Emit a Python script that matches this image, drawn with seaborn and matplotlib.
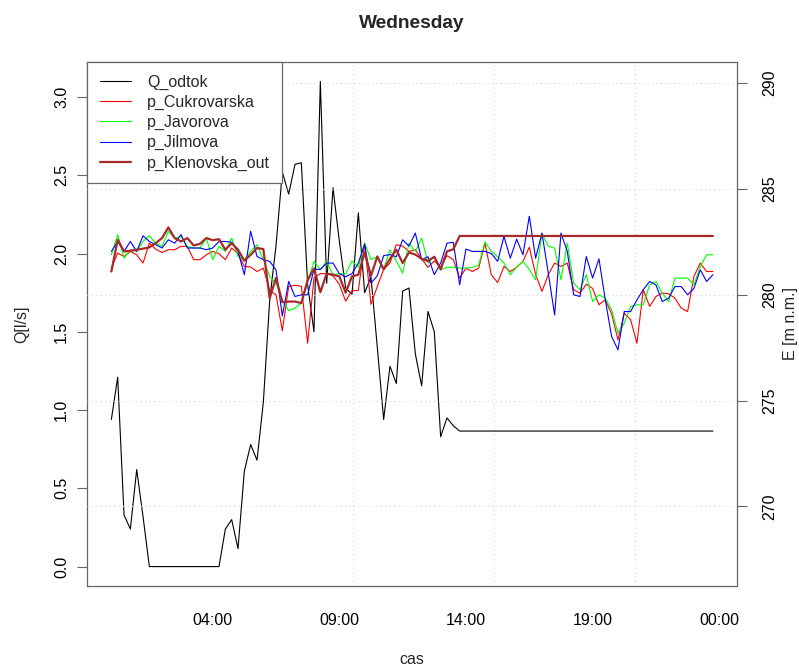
import numpy as np
import pandas as pd
import matplotlib
matplotlib.use("Agg")
import matplotlib.pyplot as plt
import seaborn as sns

# quarter-hour samples over one day, 00:00 .. 23:45
hours = np.arange(96) * 0.25

q_odtok = [
    0.94, 1.21, 0.33, 0.24, 0.62, 0.32, 0.0, 0.0, 0.0, 0.0, 0.0, 0.0,
    0.0, 0.0, 0.0, 0.0, 0.0, 0.0, 0.24, 0.30, 0.115, 0.61, 0.78, 0.68,
    1.05, 1.70, 2.05, 2.52, 2.38, 2.57, 2.58, 1.80, 1.50, 3.10, 1.81, 2.42,
    2.08, 1.78, 1.74, 2.26, 1.75, 1.85, 1.40, 0.94, 1.28, 1.17, 1.76, 1.78,
    1.36, 1.155, 1.63, 1.50, 0.83, 0.95, 0.90, 0.866, 0.866, 0.866, 0.866, 0.866,
    0.866, 0.866, 0.866, 0.866, 0.866, 0.866, 0.866, 0.866, 0.866, 0.866, 0.866, 0.866,
    0.866, 0.866, 0.866, 0.866, 0.866, 0.866, 0.866, 0.866, 0.866, 0.866, 0.866, 0.866,
    0.866, 0.866, 0.866, 0.866, 0.866, 0.866, 0.866, 0.866, 0.866, 0.866, 0.866, 0.866,
]

p_cukrovarska = [
    281.26, 281.97, 281.81, 282.05, 281.89, 281.50, 282.44, 282.16, 282.00, 282.13, 282.13, 282.29,
    282.29, 281.66, 281.66, 281.89, 282.05, 281.94, 281.66, 282.21, 281.94, 281.34, 281.31, 281.10,
    281.26, 280.20, 280.00, 278.30, 280.40, 280.45, 280.40, 277.71, 280.80, 281.00, 281.00, 280.90,
    280.50, 279.70, 280.20, 280.20, 282.40, 279.55, 280.40, 281.20, 281.50, 282.37, 282.30, 282.05,
    282.13, 281.70, 281.30, 281.60, 281.30, 281.85, 281.66, 280.79, 281.26, 281.10, 281.26, 282.44,
    280.95, 280.58, 281.34, 281.10, 281.30, 281.58, 282.25, 280.95, 280.16, 280.95, 281.50, 281.34,
    281.50, 280.24, 280.08, 280.50, 280.30, 279.53, 279.76, 279.10, 277.87, 279.13, 278.82, 277.71,
    280.24, 279.45, 279.92, 280.08, 280.05, 279.84, 279.37, 279.21, 280.87, 281.50, 281.10, 281.10,
]

p_javorova = [
    281.89, 282.84, 281.73, 282.13, 282.05, 282.52, 282.79, 282.44, 282.29, 283.00, 282.68, 282.76,
    282.29, 282.21, 282.21, 282.68, 281.66, 282.29, 282.05, 282.68, 281.81, 281.66, 282.05, 282.37,
    281.66, 280.87, 280.55, 279.76, 279.25, 279.37, 279.61, 280.60, 281.58, 281.18, 281.58, 280.95,
    281.00, 281.00, 281.60, 281.30, 282.44, 281.66, 281.80, 281.20, 282.13, 281.60, 281.02, 282.44,
    282.05, 282.68, 281.50, 281.80, 281.18, 281.30, 281.30, 281.26, 281.26, 281.30, 281.40, 282.50,
    282.05, 281.80, 281.50, 280.95, 281.30, 281.58, 281.20, 280.71, 282.89, 282.30, 282.20, 280.71,
    282.44, 280.55, 280.24, 280.95, 279.68, 280.00, 279.84, 279.29, 278.19, 278.66, 279.45, 279.53,
    279.53, 280.47, 280.63, 280.08, 279.68, 280.79, 280.79, 280.79, 280.47, 281.34, 281.89, 281.89,
]

p_jilmova = [
    282.05, 282.52, 282.05, 282.52, 282.05, 282.79, 282.52, 282.37, 282.21, 282.60, 282.44, 282.84,
    282.21, 282.21, 282.21, 282.13, 282.21, 282.52, 282.52, 282.48, 282.05, 280.95, 283.00, 281.81,
    281.66, 281.58, 281.18, 279.00, 280.63, 279.92, 280.00, 280.00, 281.20, 281.20, 281.50, 281.50,
    281.00, 280.85, 281.00, 281.50, 282.40, 280.55, 280.90, 281.85, 281.90, 281.80, 282.60, 282.30,
    282.92, 281.65, 281.80, 280.95, 281.50, 282.44, 282.48, 280.47, 282.16, 282.05, 282.05, 282.05,
    281.95, 281.58, 282.76, 281.73, 282.63, 281.89, 283.71, 281.73, 282.92, 281.02, 279.05, 282.92,
    282.05, 280.00, 279.92, 281.81, 280.79, 281.70, 279.76, 278.03, 277.40, 279.21, 279.21, 279.76,
    280.24, 280.63, 280.47, 279.68, 279.84, 280.39, 280.39, 280.00, 280.30, 281.18, 280.63, 280.95,
]

p_klenovska_out = [
    281.10, 282.60, 282.05, 282.08, 282.13, 282.18, 282.24, 282.44, 282.68, 283.18, 282.68, 282.52,
    282.68, 282.33, 282.41, 282.68, 282.58, 282.63, 282.13, 282.44, 282.13, 281.61, 281.89, 282.21,
    282.16, 279.84, 280.80, 279.65, 279.68, 279.68, 279.61, 280.70, 281.25, 280.12, 281.00, 280.95,
    280.87, 280.10, 280.87, 280.95, 282.00, 280.90, 281.81, 281.20, 281.70, 282.13, 281.50, 282.00,
    281.90, 281.70, 281.60, 281.80, 281.20, 282.05, 282.15, 282.78, 282.78, 282.78, 282.78, 282.78,
    282.78, 282.78, 282.78, 282.78, 282.78, 282.78, 282.78, 282.78, 282.78, 282.78, 282.78, 282.78,
    282.78, 282.78, 282.78, 282.78, 282.78, 282.78, 282.78, 282.78, 282.78, 282.78, 282.78, 282.78,
    282.78, 282.78, 282.78, 282.78, 282.78, 282.78, 282.78, 282.78, 282.78, 282.78, 282.78, 282.78,
]

x_tick_hours = [4, 9, 14, 19, 24]
x_tick_labels = ["04:00", "09:00", "14:00", "19:00", "00:00"]
q_ticks = [0.0, 0.5, 1.0, 1.5, 2.0, 2.5, 3.0]
e_ticks = [270, 275, 280, 285, 290]

df = pd.DataFrame({
    "hours": hours,
    "Q_odtok": q_odtok,
    "p_Cukrovarska": p_cukrovarska,
    "p_Javorova": p_javorova,
    "p_Jilmova": p_jilmova,
    "p_Klenovska_out": p_klenovska_out,
})

sns.set_style("white")
plt.rcParams["font.family"] = ["Liberation Sans", "DejaVu Sans"]

FS = 11.5
AXC = "#666666"

fig = plt.figure(figsize=(7.99, 6.66), dpi=100)
ax = fig.add_axes([87.3 / 799, 1 - 586 / 666, (737 - 87.3) / 799, (586 - 62) / 666])

sns.lineplot(data=df, x="hours", y="Q_odtok", ax=ax, color="black",
             linewidth=0.8, label="Q_odtok", legend=False)
ax.set_xlim(-0.95, 24.7)
ax.set_ylim(-0.124, 3.224)

ax2 = ax.twinx()
series = [
    ("p_Cukrovarska", "#FF0000", 0.8),
    ("p_Javorova", "#00FF00", 0.8),
    ("p_Jilmova", "#0000FF", 0.8),
    ("p_Klenovska_out", "#A52A2A", 1.6),
]
for name, col, lw in series:
    sns.lineplot(data=df, x="hours", y=name, ax=ax2, color=col,
                 linewidth=lw, label=name, legend=False)
ax2.set_ylim(266.24, 291.0)

# R-style grid: dotted light grey
grid_hours = [4 + k * 20000 / 3600 for k in range(4)]
ax.set_xticks(grid_hours, minor=True)
ax.tick_params(axis="x", which="minor", length=0)
ax.grid(which="minor", axis="x", color="#D3D3D3", linestyle=(0, (1, 3)), linewidth=0.8)
ax.grid(which="major", visible=False)
ax2.set_yticks(e_ticks, [str(v) for v in e_ticks])
ax2.grid(axis="y", color="#D3D3D3", linestyle=(0, (1, 3)), linewidth=0.8)
ax2.grid(axis="x", visible=False)

ax.set_xticks(x_tick_hours, x_tick_labels)
ax.set_yticks(q_ticks, [f"{v:.1f}" for v in q_ticks], rotation=90, va="center")
for lab in ax2.get_yticklabels():
    lab.set_rotation(90)
    lab.set_va("center")

ax.tick_params(axis="x", which="major", direction="out", length=7.2, width=0.8,
               color=AXC, labelsize=FS, labelcolor="black", pad=12)
ax.tick_params(axis="y", direction="out", length=7.2, width=0.8,
               color=AXC, labelsize=FS, labelcolor="black", pad=6)
ax2.tick_params(axis="y", direction="out", length=7.2, width=0.8,
                color=AXC, labelsize=FS, labelcolor="black", pad=11)

for s in ax.spines.values():
    s.set_visible(True)
    s.set_color(AXC)
    s.set_linewidth(0.9)
for s in ax2.spines.values():
    s.set_visible(False)

ax.set_xlabel("")
ax.set_ylabel("")
ax2.set_ylabel("")

handles = ax.get_lines()[:1] + ax2.get_lines()[:4]
labels = ["Q_odtok", "p_Cukrovarska", "p_Javorova", "p_Jilmova", "p_Klenovska_out"]
leg = ax2.legend(handles, labels, loc="upper left", bbox_to_anchor=(0, 1),
                 borderaxespad=0, fontsize=FS, frameon=True, fancybox=False,
                 framealpha=1, edgecolor=AXC, handlelength=1.95,
                 handletextpad=1.0, labelspacing=0.32, borderpad=0.78)
leg.get_frame().set_linewidth(0.9)

fig.text(412 / 799, 1 - 23 / 666, "Wednesday", ha="center", va="center",
         fontsize=13.8, fontweight="bold")
fig.text(412 / 799, 1 - 659 / 666, "cas", ha="center", va="center", fontsize=FS)
fig.text(22 / 799, 1 - 324 / 666, "Q[l/s]", ha="center", va="center",
         rotation=90, fontsize=FS)
fig.text(790 / 799, 1 - 324 / 666, "E [m n.m.]", ha="center", va="center",
         rotation=90, fontsize=FS)

fig.savefig("out.png", dpi=100)
